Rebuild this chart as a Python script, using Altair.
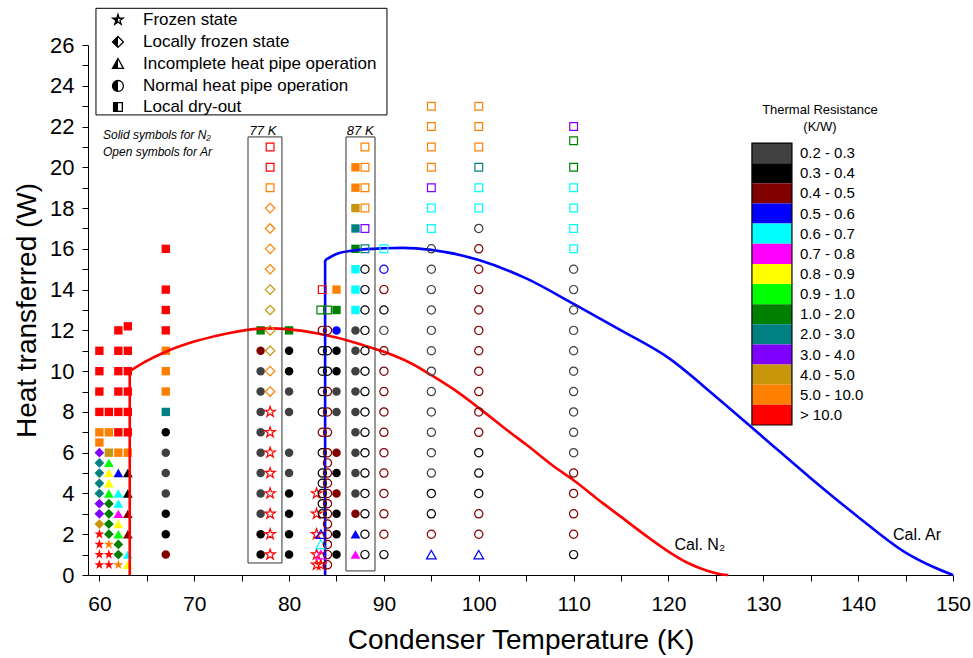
import altair as alt
import pandas as pd

# ---------------- categories ----------------
classes = ["0.2 - 0.3", "0.3 - 0.4", "0.4 - 0.5", "0.5 - 0.6", "0.6 - 0.7", "0.7 - 0.8",
           "0.8 - 0.9", "0.9 - 1.0", "1.0 - 2.0", "2.0 - 3.0", "3.0 - 4.0", "4.0 - 5.0",
           "5.0 - 10.0", "> 10.0"]
class_codes = ["G", "K", "M", "B", "C", "P", "Y", "L", "D", "T", "V", "O", "A", "R"]
class_colors = ["#404040", "#000000", "#800000", "#0000ff", "#00ffff", "#ff00ff", "#ffff00",
                "#00ff00", "#008000", "#008080", "#8000ff", "#c8960a", "#ff8000", "#ff0000"]

states = ["Frozen state", "Locally frozen state", "Incomplete heat pipe operation",
          "Normal heat pipe operation", "Local dry-out"]
state_codes = ["F", "L", "I", "N", "D"]

# ---------------- N2 data (solid symbols): (heat W, class, state) ----------------
n2_60 = [(0.5, "R", "F"), (1, "R", "F"), (1.5, "R", "F"), (2, "R", "F"), (2.5, "O", "L"),
         (3, "V", "L"), (3.5, "V", "L"), (4, "T", "L"), (4.5, "T", "L"), (5, "T", "L"),
         (5.5, "T", "L"), (6, "V", "L"), (6.5, "A", "D"), (7, "A", "D"), (8, "R", "D"),
         (9, "R", "D"), (10, "R", "D"), (11, "R", "D")]
n2_61 = [(0.5, "R", "F"), (1, "R", "F"), (1.5, "A", "F"), (2, "D", "L"), (2.5, "D", "L"),
         (3, "D", "L"), (3.5, "D", "L"), (4, "L", "I"), (4.5, "Y", "I"), (5, "Y", "I"),
         (5.5, "L", "I"), (6, "O", "D"), (7, "A", "D"), (8, "R", "D")]
n2_62 = [(0.5, "A", "F"), (1, "D", "L"), (1.5, "D", "L"), (2, "L", "I"), (2.5, "Y", "I"),
         (3, "P", "I"), (3.5, "C", "I"), (4, "C", "I"), (5, "B", "I"), (6, "A", "D"),
         (7, "R", "D"), (8, "R", "D"), (9, "R", "D"), (10, "R", "D"), (11, "R", "D"), (12, "R", "D")]
n2_63 = [(0.5, "Y", "I"), (1, "C", "I"), (2, "M", "I"), (3, "M", "I"), (4, "K", "I"),
         (5, "K", "I"), (6, "A", "D"), (7, "R", "D"), (8, "R", "D"), (9, "R", "D"),
         (10, "R", "D"), (11, "R", "D"), (12.2, "R", "D")]
n2_67 = [(1, "M", "N"), (2, "K", "N"), (3, "K", "N"), (4, "G", "N"), (5, "G", "N"),
         (6, "G", "N"), (7, "K", "N"), (8, "T", "D"), (9, "A", "D"), (10, "A", "D"),
         (11, "A", "D"), (12, "R", "D"), (13, "R", "D"), (14, "R", "D"), (16, "R", "D")]
n2_77 = [(1, "K", "N"), (2, "K", "N"), (3, "G", "N"), (4, "G", "N"), (5, "G", "N"),
         (6, "G", "N"), (7, "G", "N"), (8, "G", "N"), (9, "G", "N"), (10, "G", "N"),
         (11, "M", "N"), (12, "D", "D")]
n2_80 = [(1, "K", "N"), (2, "K", "N"), (3, "K", "N"), (4, "K", "N"), (5, "G", "N"),
         (6, "G", "N"), (8, "G", "N"), (9, "G", "N"), (10, "K", "N"), (11, "K", "N"),
         (12, "D", "D")]
n2_85 = [(1, "K", "N"), (2, "K", "N"), (3, "K", "N"), (4, "M", "N"), (5, "K", "N"),
         (6, "M", "N"), (8, "G", "N"), (9, "G", "N"), (10, "K", "N"), (11, "K", "N"),
         (12, "B", "N"), (13, "D", "D"), (14, "A", "D")]
n2_87 = [(1, "P", "I"), (2, "B", "I"), (3, "M", "N"), (4, "G", "N"), (5, "G", "N"),
         (6, "G", "N"), (7, "G", "N"), (8, "G", "N"), (9, "G", "N"), (10, "G", "N"),
         (11, "G", "N"), (12, "G", "N"), (13, "C", "D"), (14, "C", "D"), (15, "C", "D"),
         (16, "D", "D"), (17, "T", "D"), (18, "O", "D"), (19, "A", "D"), (20, "A", "D")]

# ---------------- Ar data (open symbols) ----------------
ar_78 = [(1, "R", "F"), (2, "R", "F"), (3, "R", "F"), (4, "R", "F"), (5, "R", "F"),
         (6, "R", "F"), (7, "R", "F"), (8, "R", "F"), (9, "A", "L"), (10, "A", "L"),
         (11, "O", "L"), (12, "O", "L"), (13, "O", "L"), (14, "O", "L"), (15, "A", "L"),
         (16, "A", "L"), (17, "A", "L"), (18, "A", "L"), (19, "A", "D"), (20, "R", "D"),
         (21, "R", "D")]
ar_83 = [(0.5, "R", "F"), (1, "R", "F"), (2, "R", "F"), (3, "R", "F"), (4, "R", "F")]
ar_833 = [(0.5, "R", "F"), (1, "P", "I"), (1.5, "C", "I"), (2, "B", "I"), (13, "D", "D")]
ar_835 = [(3, "K", "N"), (3.5, "K", "N"), (4, "K", "N"), (4.5, "K", "N"), (5, "K", "N"),
          (6, "K", "N"), (7, "M", "N"), (8, "K", "N"), (9, "K", "N"), (10, "K", "N"),
          (11, "K", "N"), (12, "M", "N"), (14, "R", "D")]
ar_84 = [(0.5, "M", "N"), (1, "M", "N"), (1.5, "M", "N"), (2, "M", "N"), (2.5, "M", "N"),
         (3, "M", "N"), (3.5, "M", "N"), (4, "M", "N"), (4.5, "M", "N"), (5, "M", "N"),
         (5.5, "M", "N"), (6, "M", "N"), (7, "M", "N"), (8, "M", "N"), (9, "M", "N"),
         (10, "K", "N"), (11, "K", "N"), (12, "M", "N"), (13, "D", "D")]
ar_88 = [(1, "K", "N"), (2, "K", "N"), (3, "K", "N"), (4, "K", "N"), (5, "K", "N"),
         (6, "K", "N"), (7, "K", "N"), (8, "K", "N"), (9, "K", "N"), (10, "K", "N"),
         (11, "K", "N"), (12, "K", "N"), (13, "K", "N"), (14, "K", "N"), (15, "K", "N"),
         (16, "T", "D"), (17, "V", "D"), (18, "A", "D"), (19, "A", "D"), (20, "A", "D"),
         (21, "A", "D")]
ar_90 = [(1, "K", "N"), (2, "M", "N"), (3, "M", "N"), (4, "M", "N"), (5, "M", "N"),
         (6, "M", "N"), (7, "M", "N"), (8, "M", "N"), (9, "M", "N"), (10, "M", "N"),
         (11, "M", "N"), (12, "G", "N"), (13, "K", "N"), (14, "M", "N"), (15, "B", "N"),
         (16, "C", "D")]
ar_95 = [(1, "B", "I"), (2, "M", "N"), (3, "K", "N"), (4, "K", "N"), (5, "G", "N"),
         (6, "G", "N"), (7, "G", "N"), (8, "G", "N"), (9, "G", "N"), (10, "G", "N"),
         (11, "G", "N"), (12, "G", "N"), (13, "G", "N"), (14, "G", "N"), (15, "G", "N"),
         (16, "G", "N"), (17, "C", "D"), (18, "C", "D"), (19, "V", "D"), (20, "A", "D"),
         (21, "A", "D"), (22, "A", "D"), (23, "A", "D")]
ar_100 = [(1, "B", "I"), (2, "M", "N"), (3, "M", "N"), (4, "K", "N"), (5, "K", "N"),
          (6, "K", "N"), (7, "M", "N"), (8, "M", "N"), (9, "M", "N"), (10, "M", "N"),
          (11, "M", "N"), (12, "M", "N"), (13, "M", "N"), (14, "M", "N"), (15, "M", "N"),
          (16, "M", "N"), (17, "G", "N"), (18, "C", "D"), (19, "C", "D"), (20, "T", "D"),
          (21, "A", "D"), (22, "A", "D"), (23, "A", "D")]
ar_110 = [(1, "K", "N"), (2, "M", "N"), (3, "M", "N"), (4, "M", "N"), (5, "M", "N"),
          (6, "G", "N"), (7, "G", "N"), (8, "G", "N"), (9, "G", "N"), (10, "G", "N"),
          (11, "G", "N"), (12, "G", "N"), (13, "G", "N"), (14, "G", "N"), (15, "G", "N"),
          (16, "C", "D"), (17, "C", "D"), (18, "C", "D"), (19, "C", "D"), (20, "D", "D"),
          (21.3, "D", "D"), (22, "V", "D")]

n2_columns = [(60, n2_60), (61, n2_61), (62, n2_62), (63, n2_63), (67, n2_67), (77, n2_77),
              (80, n2_80), (85, n2_85), (87, n2_87)]
ar_columns = [(78, ar_78), (82.9, ar_83), (83.35, ar_833), (83.5, ar_835), (84.05, ar_84),
              (88, ar_88), (90, ar_90), (95, ar_95), (100, ar_100), (110, ar_110)]

# ---------------- calculated limits ----------------
n2_vert_T = 63.2
n2_vert_Q = 10.0
n2_curve_T = [63.2, 65, 67, 70, 73, 76, 78, 80, 83, 85, 88, 90, 93, 95, 98, 100, 103, 105,
              108, 110, 113, 115, 118, 120, 122, 124, 125.5, 126.3]
n2_curve_Q = [10.0, 10.5, 10.95, 11.45, 11.8, 12.05, 12.1, 12.05, 11.85, 11.65, 11.25, 10.95,
              10.35, 9.8, 8.9, 8.2, 7.1, 6.4, 5.3, 4.65, 3.55, 2.85, 1.8, 1.15, 0.6, 0.22,
              0.04, 0.0]
ar_vert_T = 83.8
ar_vert_Q = 15.45
ar_curve_T = [83.8, 85, 87, 90, 92, 95, 100, 105, 110, 115, 120, 125, 130, 135, 140,
              145, 148, 150]
ar_curve_Q = [15.45, 15.75, 15.93, 16.03, 16.05, 15.95, 15.45, 14.55, 13.3, 12.0, 10.65, 8.75,
              6.75, 4.75, 2.85, 1.1, 0.38, 0.0]

# ---------------- styling ----------------
FONT = "Liberation Sans"
STAR = ("M0,-1L0.225,-0.309L0.951,-0.309L0.363,0.118L0.588,0.809L0,0.382L-0.588,0.809"
        "L-0.363,0.118L-0.951,-0.309L-0.225,-0.309Z")
shape_of = {"F": STAR, "L": "diamond", "I": "triangle-up", "N": "circle", "D": "square"}
size_solid = {"F": 110, "L": 95, "I": 95, "N": 72, "D": 70}
size_open = {"F": 120, "L": 90, "I": 95, "N": 68, "D": 60}


def build(columns, sizes):
    rows = []
    for T, pts in columns:
        for q, c, s in pts:
            rows.append({"T": float(T), "Q": float(q), "cls": classes[class_codes.index(c)],
                         "shp": shape_of[s], "sz": float(sizes[s])})
    return pd.DataFrame(rows)


df_n2 = build(n2_columns, size_solid)
df_ar = build(ar_columns, size_open)

xs = alt.Scale(domain=[58.8, 150], nice=False, zero=False)
ys = alt.Scale(domain=[0, 26], nice=False, zero=False)
cs = alt.Scale(domain=classes, range=class_colors)

axis_common = dict(grid=False, domainColor="black", tickColor="black", labelColor="black",
                   titleColor="black", labelFont=FONT, titleFont=FONT, titleFontWeight="normal",
                   domainWidth=1, tickWidth=1, tickSize=6, labelOverlap=False, labelFlush=False)

x_axis = alt.Axis(values=list(range(60, 151, 5)), labelExpr="datum.value % 10 ? '' : datum.label",
                  title="Condenser Temperature (K)", labelFontSize=21,
                  titleFontSize=28, labelPadding=12, titlePadding=12, **axis_common)
y_axis = alt.Axis(values=list(range(0, 27)), labelExpr="datum.value % 2 ? '' : datum.label",
                  title="Heat transferred (W)", labelFontSize=22,
                  titleFontSize=28, labelPadding=8, titlePadding=8, **axis_common)


def X(f="T"):
    return alt.X(f"{f}:Q", scale=xs, axis=x_axis, title="Condenser Temperature (K)")


def Y(f="Q"):
    return alt.Y(f"{f}:Q", scale=ys, axis=y_axis, title="Heat transferred (W)")


# ---------------- points ----------------
solid = alt.Chart(df_n2).mark_point(filled=True, opacity=1).encode(
    x=X(), y=Y(),
    color=alt.Color("cls:N", scale=cs, legend=None),
    shape=alt.Shape("shp:N", scale=None),
    size=alt.Size("sz:Q", scale=None))
hollow = alt.Chart(df_ar).mark_point(filled=False, opacity=1, strokeWidth=1.2).encode(
    x=X(), y=Y(),
    color=alt.Color("cls:N", scale=cs, legend=None),
    shape=alt.Shape("shp:N", scale=None),
    size=alt.Size("sz:Q", scale=None))

# ---------------- lines ----------------
df_n2_curve = pd.DataFrame({"T": n2_curve_T, "Q": n2_curve_Q})
df_ar_curve = pd.DataFrame({"T": ar_curve_T, "Q": ar_curve_Q})
df_n2_vert = pd.DataFrame({"T": [n2_vert_T], "Q0": [0.0], "Q": [n2_vert_Q]})
df_ar_vert = pd.DataFrame({"T": [ar_vert_T], "Q0": [0.0], "Q": [ar_vert_Q]})

n2_line = alt.Chart(df_n2_curve).mark_line(color="#ff0000", strokeWidth=2.6,
                                           interpolate="monotone").encode(x=X(), y=Y())
ar_line = alt.Chart(df_ar_curve).mark_line(color="#0000ff", strokeWidth=2.6,
                                           interpolate="monotone").encode(x=X(), y=Y())
n2_vert = alt.Chart(df_n2_vert).mark_rule(strokeWidth=2.6, color="#ff0000").encode(
    x=X(), y=Y("Q0"), y2="Q:Q")
ar_vert = alt.Chart(df_ar_vert).mark_rule(strokeWidth=2.6, color="#0000ff").encode(
    x=X(), y=Y("Q0"), y2="Q:Q")

# ---------------- 77 K / 87 K boxes ----------------
df_box = pd.DataFrame({"T": [75.67, 86.0], "T2": [79.25, 89.06], "Q": [0.59, 0.2],
                       "Q2": [21.49, 21.49], "lab": ["77 K", "87 K"],
                       "LT": [77.25, 87.5], "LQ": [21.8, 21.8]})
boxes = alt.Chart(df_box).mark_rect(fill=None, stroke="#333333", strokeWidth=1).encode(
    x=X(), x2="T2:Q", y=Y(), y2="Q2:Q")
box_text = alt.Chart(df_box).mark_text(font=FONT, fontSize=13, fontStyle="italic",
                                        baseline="middle", color="black").encode(
    x=X("LT"), y=Y("LQ"), text="lab:N")

# ---------------- annotations ----------------
df_note = pd.DataFrame({"T": [60.38, 60.38], "Q": [21.58, 20.75],
                        "t": ["Solid symbols for N₂", "Open symbols for Ar"]})
notes = alt.Chart(df_note).mark_text(font=FONT, fontSize=12, fontStyle="italic", align="left",
                                     baseline="middle", color="black").encode(
    x=X(), y=Y(), text="t:N")
df_cal = pd.DataFrame({"T": [123.3, 146.2], "Q": [1.45, 1.95], "t": ["Cal. N₂", "Cal. Ar"]})
cal = alt.Chart(df_cal).mark_text(font=FONT, fontSize=16, baseline="middle", color="black").encode(
    x=X(), y=Y(), text="t:N")

# ---------------- resistance legend (right) ----------------
cl_top = 21.19
cl_step = 0.988
df_cl = pd.DataFrame({"cls": classes,
                      "Qt": [cl_top - i * cl_step for i in range(len(classes))],
                      "Qb": [cl_top - (i + 1) * cl_step for i in range(len(classes))]})
df_cl["Qm"] = (df_cl["Qt"] + df_cl["Qb"]) / 2
df_cl["T"] = 128.8
df_cl["T2"] = 133.02
df_cl["TL"] = 133.86
cl_rect = alt.Chart(df_cl).mark_rect(opacity=1).encode(
    x=X(), x2="T2:Q", y=Y("Qb"), y2="Qt:Q", color=alt.Color("cls:N", scale=cs, legend=None))
df_clframe = pd.DataFrame({"T": [128.8], "T2": [133.02], "Q": [cl_top - len(classes) * cl_step],
                           "Q2": [cl_top]})
cl_frame = alt.Chart(df_clframe).mark_rect(fill=None, stroke="black", strokeWidth=1.2).encode(
    x=X(), x2="T2:Q", y=Y(), y2="Q2:Q")
cl_text = alt.Chart(df_cl).mark_text(font=FONT, fontSize=15, align="left", baseline="middle",
                                     color="black").encode(
    x=X("TL"), y=Y("Qm"), text="cls:N")
df_cltitle = pd.DataFrame({"T": [135.97, 135.97], "Q": [22.81, 21.98],
                           "t": ["Thermal Resistance", "(K/W)"]})
cl_title = alt.Chart(df_cltitle).mark_text(font=FONT, fontSize=13, baseline="middle",
                                           color="black").encode(
    x=X(), y=Y(), text="t:N")

# ---------------- state legend (top-left) ----------------
leg_full = {
    "F": STAR,
    "L": "M0,-1L1,0L0,1L-1,0Z",
    "I": "M0,-1L1,0.8L-1,0.8Z",
    "N": "M1,0A1,1,0,1,1,-1,0A1,1,0,1,1,1,0Z",
    "D": "M-0.8,-0.8L0.8,-0.8L0.8,0.8L-0.8,0.8Z",
}
leg_half = {
    "F": "M0,-1L0.225,-0.309L0,-0.309L0,0.382L-0.588,0.809L-0.363,0.118L-0.951,-0.309L-0.225,-0.309Z",
    "L": "M0,-1L-1,0L0,1Z",
    "I": "M0,-1L0,0.8L-1,0.8Z",
    "N": "M0,-1A1,1,0,0,0,0,1Z",
    "D": "M-0.8,-0.8L0,-0.8L0,0.8L-0.8,0.8Z",
}
leg_Q = [27.23, 26.15, 25.07, 23.99, 22.96]
df_leg = pd.DataFrame({"T": [61.96] * 5, "TT": [64.6] * 5, "Q": leg_Q, "t": states,
                       "full": [leg_full[s] for s in state_codes],
                       "half": [leg_half[s] for s in state_codes]})
df_legbox = pd.DataFrame({"T": [59.64], "T2": [90.32], "Q": [22.57], "Q2": [27.8]})
legbox = alt.Chart(df_legbox).mark_rect(fill="white", stroke="black", strokeWidth=1).encode(
    x=X(), x2="T2:Q", y=Y(), y2="Q2:Q")
leg_text = alt.Chart(df_leg).mark_text(font=FONT, fontSize=17, align="left", baseline="middle",
                                       color="black").encode(
    x=X("TT"), y=Y(), text="t:N")
leg_half_m = alt.Chart(df_leg).mark_point(filled=True, color="black", opacity=1, size=120).encode(
    x=X(), y=Y(), shape=alt.Shape("half:N", scale=None))
leg_full_m = alt.Chart(df_leg).mark_point(filled=False, color="black", opacity=1, size=120,
                                          strokeWidth=1.3).encode(
    x=X(), y=Y(), shape=alt.Shape("full:N", scale=None))

chart = alt.layer(
    solid, n2_line, ar_line, n2_vert, ar_vert, boxes, box_text, notes, cal,
    hollow, cl_rect, cl_frame, cl_text, cl_title,
    legbox, leg_text, leg_half_m, leg_full_m,
).properties(
    width=865, height=530,
    autosize=alt.AutoSizeParams(type="none"),
    padding={"left": 88, "top": 45, "right": 20, "bottom": 83},
).configure(background="white").configure_view(stroke=None)

chart.save("out.html", embed_options={"renderer": "svg", "actions": False})
